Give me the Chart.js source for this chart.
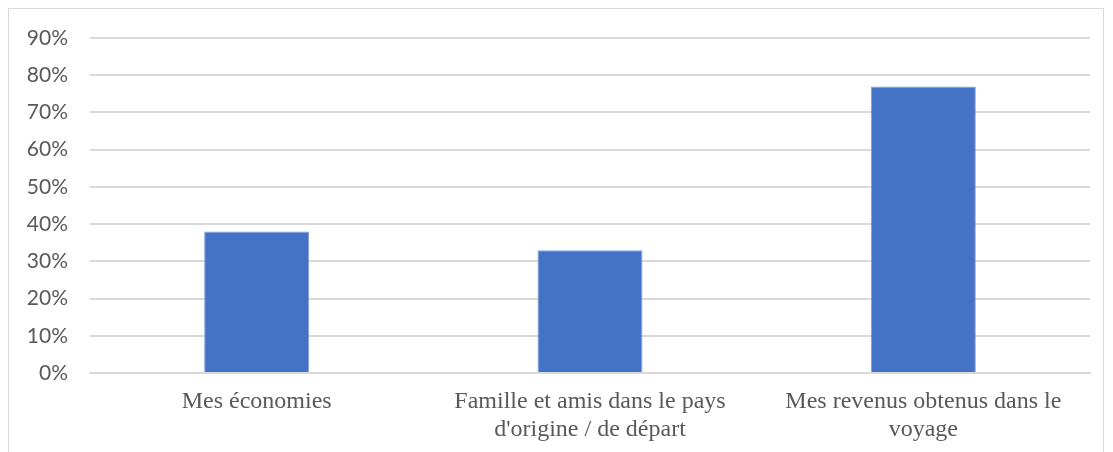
<!DOCTYPE html>
<html>
<head>
<meta charset="utf-8">
<script src="https://cdn.jsdelivr.net/npm/chart.js@4/dist/chart.umd.min.js"></script>
<style>
  html, body { margin: 0; padding: 0; background: #fff; overflow: hidden; }
  #frame {
    position: absolute; left: 8px; top: 8px;
    width: 1096px; height: 460px;
    border: 1px solid #d9d9d9; box-sizing: border-box;
  }
  #wrap { position: absolute; left: 0; top: 0; width: 1094px; height: 458px; }
</style>
</head>
<body>
<div id="frame"><div id="wrap"><canvas id="chart"></canvas></div></div>
<script>
// categories + values (share of respondents)
const categories = [
  'Mes économies',
  ['Famille et amis dans le pays', "d'origine / de départ"],
  ['Mes revenus obtenus dans le', 'voyage'],
];
const shares = [0.38, 0.33, 0.77];
const yTicks = [0, 0.1, 0.2, 0.3, 0.4, 0.5, 0.6, 0.7, 0.8, 0.9];

const ctx = document.getElementById('chart').getContext('2d');
new Chart(ctx, {
  type: 'bar',
  data: {
    labels: categories,
    datasets: [{
      data: shares,
      backgroundColor: '#4472c4',
      borderColor: '#7f9fd8',
      borderWidth: 1,
      barPercentage: 0.315,
      categoryPercentage: 1,
    }],
  },
  options: {
    responsive: true,
    maintainAspectRatio: false,
    animation: false,
    layout: { padding: { top: 29, right: 13, left: 0, bottom: 0 } },
    plugins: { legend: { display: false }, tooltip: { enabled: false } },
    scales: {
      x: {
        grid: { display: false, drawTicks: false },
        border: { display: true, color: '#d9d9d9', width: 2 },
        ticks: {
          color: '#595959',
          font: { family: '"Liberation Serif", "Times New Roman", serif', size: 24 },
          padding: 14,
          maxRotation: 0,
          autoSkip: false,
        },
        afterFit: (s) => { s.height = 94; },
      },
      y: {
        min: 0,
        max: 0.9,
        afterBuildTicks: (s) => { s.ticks = yTicks.map(v => ({ value: v })); },
        grid: { color: '#d9d9d9', lineWidth: 2, drawTicks: false },
        border: { display: false },
        ticks: {
          color: '#595959',
          font: { family: 'Lato, "Open Sans", sans-serif', size: 21 },
          padding: 22,
          callback: (v) => Math.round(v * 100) + '%',
        },
        afterFit: (s) => { s.width = 81; s.paddingTop = 0; s.paddingBottom = 0; },
      },
    },
  },
});
</script>
</body>
</html>
